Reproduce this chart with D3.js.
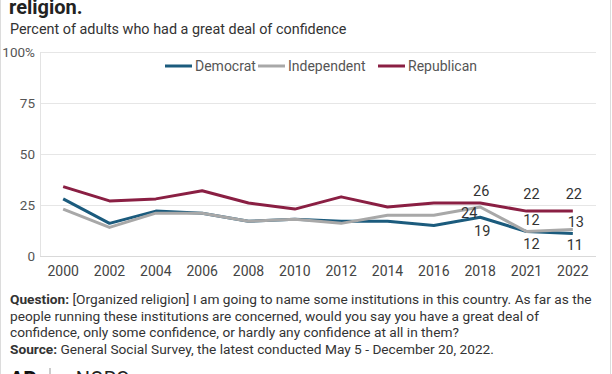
<!DOCTYPE html>
<html>
<head>
<meta charset="utf-8">
<script src="https://cdn.jsdelivr.net/npm/d3@7"></script>
<style>
  body { margin: 0; background: #fff; }
  svg { display: block; font-family: Roboto, "Noto Sans", sans-serif; }
</style>
</head>
<body>
<div id="chart"></div>
<script>
(function () {
  'use strict';

  var years = ["2000", "2002", "2004", "2006", "2008", "2010", "2012", "2014", "2016", "2018", "2021", "2022"];
  var democrat = [28, 16, 22, 21, 17, 18, 17, 17, 15, 19, 12, 11];
  var independent = [23, 14, 21, 21, 17, 18, 16, 20, 20, 24, 12, 13];
  var republican = [34, 27, 28, 32, 26, 23, 29, 24, 26, 26, 22, 22];
  var yTicks = [0, 25, 50, 75, 100];

  var series = [
    { name: "Democrat", values: democrat, color: "#1b5b7d" },
    { name: "Independent", values: independent, color: "#a8a8a8" },
    { name: "Republican", values: republican, color: "#8a1f43" }
  ];

  // end labels: series index, year index, offset
  var labels = [
    { s: 2, i: 9, dx: 1, dy: -12 },
    { s: 2, i: 10, dx: 5, dy: -17 },
    { s: 2, i: 11, dx: 1, dy: -17 },
    { s: 1, i: 9, dx: -11, dy: 6 },
    { s: 1, i: 10, dx: 5, dy: -12 },
    { s: 1, i: 11, dx: 3, dy: -8 },
    { s: 0, i: 9, dx: 2, dy: 14 },
    { s: 0, i: 10, dx: 5, dy: 12 },
    { s: 0, i: 11, dx: 2, dy: 11 }
  ];

  var width = 612, height = 374;
  var margin = { top: 52, left: 40, right: 16, bottom: 118 };
  var plotW = width - margin.left - margin.right;
  var plotH = height - margin.top - margin.bottom;

  var svg = d3.select("#chart").append("svg")
    .attr("width", width)
    .attr("height", height);

  // frame
  svg.append("line").attr("x1", 0.5).attr("x2", 0.5).attr("y1", 0).attr("y2", height)
    .attr("stroke", "#dcdcdc");
  svg.append("line").attr("x1", 610.5).attr("x2", 610.5).attr("y1", 0).attr("y2", height)
    .attr("stroke", "#dcdcdc");

  // titles
  svg.append("text").attr("x", 9).attr("y", 14)
    .attr("font-size", "20px").attr("font-weight", "700").attr("fill", "#222")
    .text("religion.");
  svg.append("text").attr("x", 10).attr("y", 34)
    .attr("font-size", "14.4px").attr("fill", "#333")
    .text("Percent of adults who had a great deal of confidence");

  var g = svg.append("g")
    .attr("transform", "translate(" + margin.left + "," + margin.top + ")");

  var x = d3.scaleBand().domain(years).range([0, plotW]);
  var y = d3.scaleLinear().domain([0, 100]).range([plotH, 0]);
  var cx = function (i) { return x(years[i]) + x.bandwidth() / 2; };

  // gridlines
  g.append("g")
    .selectAll("line")
    .data(yTicks)
    .enter().append("line")
    .attr("x1", 0).attr("x2", plotW)
    .attr("y1", function (d) { return Math.round(y(d)) + 0.5; })
    .attr("y2", function (d) { return Math.round(y(d)) + 0.5; })
    .attr("stroke", function (d) { return d === 0 ? "#d9d9d9" : "#e6e6e6"; })
    .attr("stroke-width", 1.2);

  g.append("line").attr("x1", 0.5).attr("x2", 0.5).attr("y1", 0).attr("y2", plotH)
    .attr("stroke", "#e3e3e3");

  // left axis
  var leftAxis = g.append("g")
    .call(d3.axisLeft(y).tickValues(yTicks).tickSize(0).tickPadding(5)
      .tickFormat(function (d) { return d === 100 ? "100%" : d; }));
  leftAxis.select(".domain").remove();
  leftAxis.selectAll("text")
    .attr("font-size", "13.5px").attr("fill", "#555")
    .attr("font-family", "Roboto, sans-serif");

  // bottom axis
  var bottomAxis = g.append("g")
    .attr("transform", "translate(0," + plotH + ")")
    .call(d3.axisBottom(x).tickSize(0).tickPadding(10));
  bottomAxis.select(".domain").remove();
  bottomAxis.selectAll("text")
    .attr("font-size", "14px").attr("fill", "#444")
    .attr("font-family", "Roboto, sans-serif");

  // lines
  var line = d3.line()
    .x(function (d, i) { return cx(i); })
    .y(function (d) { return y(d); });

  g.selectAll("path.series")
    .data(series)
    .enter().append("path")
    .attr("class", "series")
    .attr("d", function (d) { return line(d.values); })
    .attr("fill", "none")
    .attr("stroke", function (d) { return d.color; })
    .attr("stroke-width", 3)
    .attr("stroke-linejoin", "round");

  // value labels
  g.selectAll("text.val")
    .data(labels)
    .enter().append("text")
    .attr("class", "val")
    .attr("x", function (d) { return cx(d.i) + d.dx; })
    .attr("y", function (d) { return y(series[d.s].values[d.i]) + d.dy; })
    .attr("dy", "0.35em")
    .attr("text-anchor", "middle")
    .attr("font-size", "14.5px")
    .attr("fill", "#333")
    .text(function (d) { return series[d.s].values[d.i]; });

  // legend
  var legendX = [165, 258, 378];
  var legend = svg.append("g").selectAll("g")
    .data(series)
    .enter().append("g")
    .attr("transform", function (d, i) { return "translate(" + legendX[i] + ",66)"; });
  legend.append("line")
    .attr("x1", 0).attr("x2", 27)
    .attr("stroke", function (d) { return d.color; })
    .attr("stroke-width", 3);
  legend.append("text")
    .attr("x", 30).attr("dy", "0.35em")
    .attr("font-size", "14px").attr("fill", "#555")
    .text(function (d) { return d.name; });

  // footer
  var notes = svg.append("g").attr("font-size", "13.7px").attr("fill", "#333");
  var q = notes.append("text").attr("x", 10).attr("y", 304);
  q.append("tspan").attr("font-weight", "700").text("Question: ");
  q.append("tspan").text("[Organized religion] I am going to name some institutions in this country. As far as the");
  notes.append("text").attr("x", 10).attr("y", 321)
    .text("people running these institutions are concerned, would you say you have a great deal of");
  notes.append("text").attr("x", 10).attr("y", 337)
    .text("confidence, only some confidence, or hardly any confidence at all in them?");
  var s = notes.append("text").attr("x", 10).attr("y", 354);
  s.append("tspan").attr("font-weight", "700").text("Source: ");
  s.append("tspan").text("General Social Survey, the latest conducted May 5 - December 20, 2022.");

  // logo strip (cut off at bottom)
  svg.append("text").attr("x", 10).attr("y", 386)
    .attr("font-size", "20px").attr("font-weight", "900").attr("fill", "#111")
    .text("AP");
  svg.append("line").attr("x1", 50).attr("x2", 50).attr("y1", 368).attr("y2", 374)
    .attr("stroke", "#999");
  svg.append("text").attr("x", 60).attr("y", 386)
    .attr("font-size", "20px").attr("fill", "#222")
    .text("\u00d7 NORC");
})();
</script>
</body>
</html>
